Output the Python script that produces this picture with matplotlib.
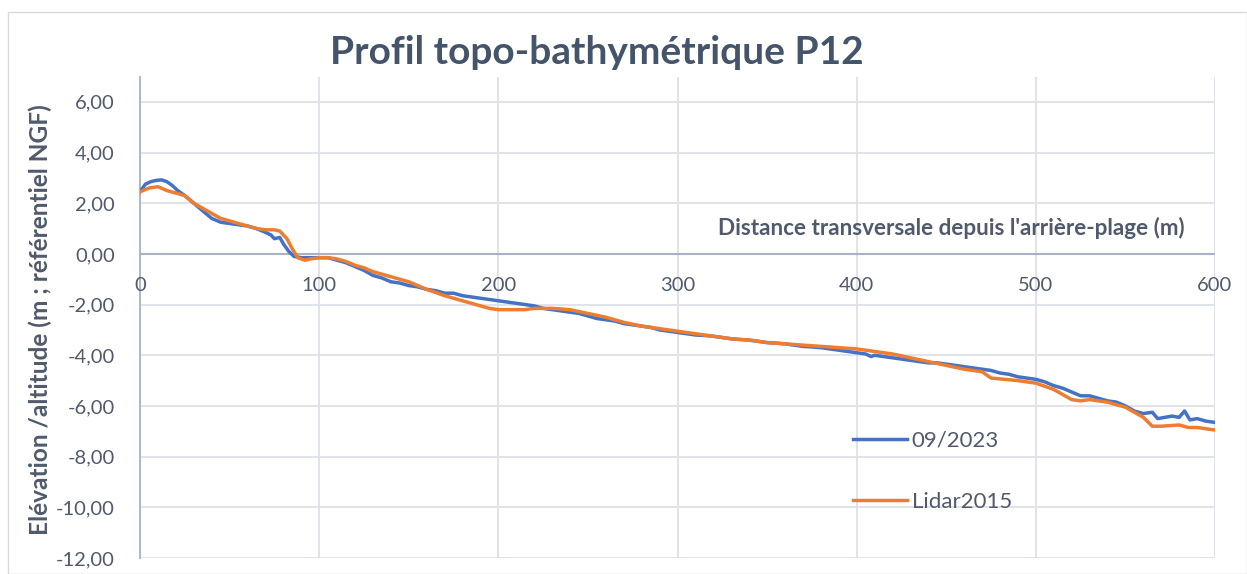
import matplotlib
matplotlib.use("Agg")
import matplotlib.pyplot as plt
from matplotlib.patches import Rectangle
from matplotlib.ticker import FuncFormatter, MultipleLocator

plt.rcParams['font.family'] = ['Lato', 'DejaVu Sans']

# 09/2023 survey
x_2023 = [0, 3, 6, 9, 12, 15, 18, 21, 25, 30, 35, 40, 45, 50, 55, 60, 65, 70, 73, 75, 78, 80, 83, 86,
          90, 95, 100, 105, 110, 115, 120, 125, 130, 135, 140, 145, 150, 155, 160, 165, 170, 175,
          180, 185, 190, 195, 200, 205, 210, 215, 220, 225, 230, 235, 240, 245, 250, 255, 260, 265,
          270, 275, 280, 285, 290, 295, 300, 305, 310, 315, 320, 325, 330, 335, 340, 345, 350, 355,
          360, 365, 370, 375, 380, 385, 390, 395, 400, 405, 408, 410, 415, 420, 425, 430, 435, 440,
          445, 450, 455, 460, 465, 470, 475, 480, 485, 490, 495, 500, 505, 510, 515, 520, 525, 530,
          535, 540, 545, 550, 555, 560, 565, 568, 572, 576, 580, 583, 586, 590, 595, 600]
y_2023 = [2.45, 2.75, 2.85, 2.9, 2.92, 2.85, 2.7, 2.5, 2.3, 2.0, 1.7, 1.4, 1.25, 1.2, 1.15, 1.1, 1.0,
          0.85, 0.75, 0.6, 0.65, 0.4, 0.1, -0.1, -0.15, -0.15, -0.15, -0.15, -0.25, -0.35, -0.5,
          -0.65, -0.85, -0.95, -1.1, -1.15, -1.25, -1.3, -1.4, -1.45, -1.55, -1.55, -1.65, -1.7,
          -1.75, -1.8, -1.85, -1.9, -1.95, -2.0, -2.05, -2.15, -2.2, -2.25, -2.3, -2.35, -2.45,
          -2.55, -2.6, -2.65, -2.75, -2.8, -2.85, -2.9, -3.0, -3.05, -3.1, -3.15, -3.2, -3.22,
          -3.25, -3.3, -3.35, -3.38, -3.4, -3.45, -3.5, -3.52, -3.55, -3.6, -3.65, -3.67, -3.7,
          -3.75, -3.8, -3.85, -3.9, -3.95, -4.05, -4.0, -4.05, -4.1, -4.15, -4.2, -4.25, -4.3,
          -4.3, -4.35, -4.4, -4.45, -4.5, -4.55, -4.6, -4.7, -4.75, -4.85, -4.9, -4.95, -5.05,
          -5.2, -5.3, -5.45, -5.6, -5.6, -5.7, -5.8, -5.85, -6.0, -6.2, -6.3, -6.25, -6.5, -6.45,
          -6.4, -6.45, -6.2, -6.55, -6.5, -6.6, -6.65]

# Lidar 2015
x_2015 = [0, 5, 10, 15, 20, 25, 30, 35, 40, 45, 50, 55, 60, 65, 70, 75, 78, 82, 85, 88, 92, 95,
          100, 105, 110, 115, 120, 125, 130, 140, 150, 160, 170, 180, 190, 195, 200, 210, 215,
          220, 230, 240, 250, 260, 270, 280, 290, 300, 310, 320, 330, 340, 350, 360, 370, 380,
          390, 400, 410, 420, 430, 440, 450, 460, 470, 475, 490, 500, 510, 515, 520, 525, 530,
          540, 550, 555, 560, 565, 570, 580, 585, 590, 600]
y_2015 = [2.45, 2.6, 2.65, 2.5, 2.4, 2.3, 2.0, 1.8, 1.6, 1.4, 1.3, 1.2, 1.1, 1.0, 0.95, 0.95,
          0.9, 0.6, 0.2, -0.15, -0.25, -0.2, -0.15, -0.15, -0.2, -0.3, -0.45, -0.55, -0.7, -0.9,
          -1.1, -1.4, -1.65, -1.85, -2.05, -2.15, -2.2, -2.2, -2.2, -2.15, -2.15, -2.2, -2.35,
          -2.5, -2.7, -2.85, -2.95, -3.05, -3.15, -3.25, -3.35, -3.4, -3.5, -3.55, -3.6, -3.65,
          -3.7, -3.75, -3.85, -3.95, -4.1, -4.25, -4.4, -4.55, -4.65, -4.9, -5.0, -5.1, -5.35,
          -5.55, -5.75, -5.8, -5.75, -5.85, -6.05, -6.25, -6.45, -6.8, -6.8, -6.75, -6.85,
          -6.85, -6.95]

title = "Profil topo-bathymétrique P12"
xlabel = "Distance transversale depuis l'arrière-plage (m)"
ylabel = "Elévation /altitude (m ; référentiel NGF)"
labels = ["09/2023", "Lidar2015"]
x_ticks = [0, 100, 200, 300, 400, 500, 600]

W, H = 1247, 574
fig = plt.figure(figsize=(W / 100, H / 100), dpi=100)
ax = fig.add_axes([140 / W, 16 / H, 1075 / W, 481.5 / H])

text_col = '#44546A'
tick_col = '#505A6B'
grid_col = '#DDE1E8'
axis_col = '#A9B1C2'

fig.patches.append(Rectangle((8 / W, 0), 1 - 8 / W, 1 - 12 / H, transform=fig.transFigure,
                             fill=False, edgecolor='#D9D9D9', linewidth=1))

ax.plot(x_2023, y_2023, color='#4472C4', lw=2.5, label=labels[0], zorder=3)
ax.plot(x_2015, y_2015, color='#ED7D31', lw=2.5, label=labels[1], zorder=4)

ax.set_xlim(0, 600)
ax.set_ylim(-12, 7)
ax.set_xticks(x_ticks)
ax.yaxis.set_major_locator(MultipleLocator(2))
ax.yaxis.set_major_formatter(FuncFormatter(lambda v, p: f"{v:.2f}".replace('.', ',')))
ax.grid(True, color=grid_col, lw=1.3, zorder=0)
ax.set_axisbelow(True)

for s in ['top', 'right', 'bottom']:
    ax.spines[s].set_visible(False)
ax.spines['left'].set_color(axis_col)
ax.spines['left'].set_linewidth(1.3)
ax.axhline(0, color=axis_col, lw=1.5, zorder=1)

ax.tick_params(axis='both', length=0, labelsize=14.5, labelcolor=tick_col)
ax.tick_params(axis='y', pad=18)
ax.set_xticklabels([])
# x tick labels just below the zero line
for v in x_ticks:
    ax.text(v, -0.9, str(v), ha='center', va='top', fontsize=14.5, color=tick_col)

ax.text(0.972, 0.685, xlabel, transform=ax.transAxes, ha='right', va='center',
        fontsize=16.2, fontweight='bold', color=tick_col)
fig.text(40 / W, 1 - 320 / H, ylabel, rotation=90, ha='center', va='center',
         fontsize=17.6, fontweight='bold', color=tick_col)
fig.text(597 / W, 1 - 53 / H, title, ha='center', va='center', fontsize=28,
         fontweight='bold', color=text_col)

leg = ax.legend(loc='upper left', bbox_to_anchor=(0.663, 0.265), frameon=False, fontsize=16,
                handlelength=2.45, handletextpad=0.2, labelspacing=1.85, labelcolor=tick_col,
                borderaxespad=0, borderpad=0)

fig.savefig('out.png', dpi=100, facecolor='white')
